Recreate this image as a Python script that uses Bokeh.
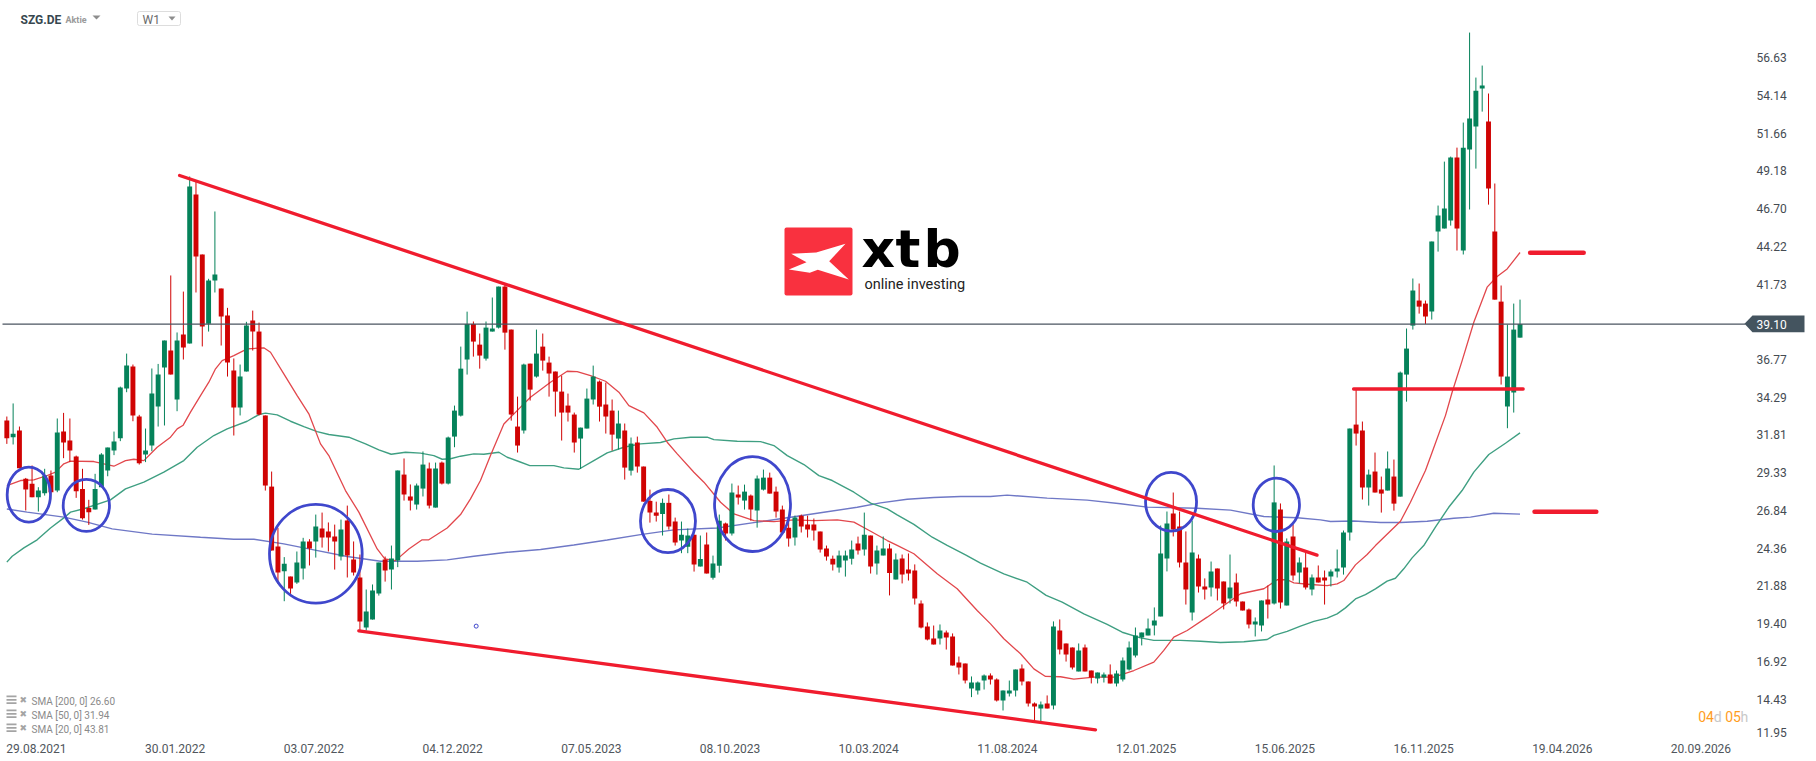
from bokeh.embed import file_html
from bokeh.models import BoxAnnotation, FixedTicker, Label, PolyAnnotation
from bokeh.plotting import figure
from bokeh.resources import INLINE

# weekly candles, 29.08.2021 onwards
opens = [
    32.76,31.66,32.10,28.92,28.59,27.71,27.98,29.14,28.15,32.03,
    31.44,30.39,28.26,27.01,26.90,28.37,29.47,30.78,31.59,34.86,
    36.31,33.02,30.52,31.11,33.68,36.24,37.36,34.14,38.41,37.82,
    47.63,43.68,39.12,41.97,41.44,39.66,36.05,33.61,35.98,39.34,
    38.61,33.09,28.41,24.47,22.84,22.49,22.10,23.02,24.80,24.80,
    25.65,25.45,25.12,23.81,26.18,23.61,22.43,19.14,19.66,21.38,
    23.61,22.95,23.55,29.20,27.76,27.23,28.28,29.60,27.03,29.99,
    28.61,31.70,33.08,36.77,39.11,37.75,36.83,38.61,38.87,41.57,
    38.74,32.36,32.10,36.50,35.65,37.62,36.57,35.98,34.66,33.74,
    33.15,31.57,32.23,34.14,35.32,33.81,33.41,31.57,32.10,29.46,
    31.31,29.73,27.47,26.70,26.61,27.34,26.11,24.86,24.46,25.25,
    23.15,24.60,22.42,23.21,25.98,25.32,27.89,27.49,27.82,26.83,
    28.21,29.00,28.08,26.90,25.71,25.06,26.50,25.91,25.91,25.45,
    24.33,23.67,23.08,23.54,23.67,24.66,24.27,25.19,23.35,23.88,
    24.34,22.30,23.68,22.96,22.89,20.72,19.21,18.42,18.42,18.81,
    18.55,16.84,16.77,15.13,15.00,15.65,15.98,15.72,14.34,14.80,
    15.00,16.44,15.59,14.14,13.81,14.14,14.01,18.94,18.09,17.83,
    16.25,17.83,16.31,15.79,15.85,16.05,15.46,15.72,16.38,17.30,
    18.48,18.62,19.27,19.87,23.68,26.64,25.79,23.42,20.13,23.68,
    21.84,21.77,23.02,22.17,21.05,22.10,20.85,20.33,19.34,19.27,
    20.98,20.72,26.90,20.59,25.13,22.76,23.09,21.64,22.43,22.43,
    22.50,22.83,23.08,25.39,32.49,32.10,28.35,29.40,28.22,28.15,
    29.07,27.75,35.78,39.00,40.65,40.45,39.93,45.19,45.39,45.91,
    50.06,43.94,50.58,52.10,54.60,52.43,45.19,40.58,33.68,34.60,38.21,
]
closes = [
    31.59,31.88,29.62,28.22,27.71,28.15,29.14,28.04,31.97,31.31,
    30.78,28.11,26.33,26.73,28.26,30.52,30.98,31.38,34.93,36.38,
    33.09,29.95,30.78,34.53,35.78,38.02,35.78,38.02,37.56,48.15,
    43.55,38.94,41.97,42.36,39.60,36.57,33.61,35.65,39.01,38.61,
    33.15,28.48,24.20,22.76,23.33,21.70,23.41,24.80,24.34,25.78,
    25.06,25.06,24.80,25.59,23.88,22.76,19.53,20.19,21.57,23.41,
    22.89,23.68,29.47,27.89,27.49,28.48,29.86,27.16,29.60,28.61,
    31.64,33.41,36.17,39.11,37.95,37.03,38.87,38.81,41.57,38.54,
    33.15,31.11,36.44,34.79,37.16,36.70,35.85,34.66,33.28,33.28,
    31.31,32.29,34.20,35.65,33.67,33.02,31.83,32.56,29.66,31.24,
    29.73,27.42,26.70,26.50,27.34,25.78,24.73,25.25,25.19,23.28,
    23.65,22.69,23.35,26.17,25.32,28.02,27.69,28.08,26.90,28.94,
    29.00,27.95,26.77,25.39,24.99,26.37,25.78,25.58,25.52,24.27,
    23.81,23.28,23.87,23.87,24.27,24.20,25.25,23.15,24.20,24.34,
    22.72,23.62,22.63,22.69,21.05,19.14,18.35,18.02,18.94,18.48,
    16.64,16.51,15.65,15.52,15.52,15.98,15.72,14.34,15.00,15.00,
    16.38,15.59,14.14,13.94,14.08,13.81,19.21,17.69,17.37,16.51,
    17.63,16.25,15.85,16.18,16.05,15.46,16.12,16.97,17.83,18.62,
    18.81,19.08,19.60,24.01,25.98,25.59,23.42,21.64,24.08,21.84,
    21.64,22.83,21.71,20.72,21.77,20.85,20.26,19.34,19.54,20.92,
    20.65,27.37,20.79,24.80,22.56,23.42,21.77,22.43,22.10,22.23,
    22.83,23.02,25.39,32.23,31.90,28.35,29.20,28.02,27.95,29.60,
    27.29,35.91,37.49,41.31,40.25,39.60,44.53,46.24,46.70,50.06,
    45.39,50.71,52.62,54.46,54.79,48.02,40.71,35.65,35.65,38.74,39.10,
]
highs = [
    33.02,33.88,32.36,28.98,29.80,28.37,29.58,29.47,32.89,33.26,
    32.89,30.45,29.58,27.54,29.25,30.61,30.98,32.03,34.99,37.16,
    36.44,33.13,32.23,36.18,36.48,38.02,42.30,38.55,41.24,48.81,
    48.55,43.68,42.08,46.51,41.44,40.17,36.84,36.44,39.25,39.99,
    39.20,33.09,29.40,25.70,23.77,22.49,24.14,25.04,24.95,26.57,
    26.70,26.05,25.91,26.24,27.16,24.80,23.94,21.64,21.97,23.41,
    23.81,24.53,29.47,30.26,28.55,28.61,30.72,29.99,29.99,30.06,
    31.70,33.74,37.62,39.92,39.27,38.48,39.27,40.85,41.57,41.70,
    38.74,34.33,36.50,36.50,38.74,38.48,36.96,35.98,35.71,34.53,
    33.28,32.29,34.86,36.37,35.39,35.25,34.14,33.41,32.56,31.64,
    31.70,29.73,28.21,27.42,27.62,27.89,26.37,26.11,25.65,25.25,
    25.19,25.39,23.87,26.57,26.04,28.61,28.48,28.54,27.89,29.14,
    29.53,29.33,28.41,27.16,26.44,26.50,26.57,26.50,26.31,25.45,
    24.53,23.87,24.20,24.20,24.86,25.12,26.70,25.19,24.53,25.13,
    24.65,24.01,23.94,24.01,23.29,20.92,19.47,19.27,19.34,18.94,
    18.75,17.23,16.77,15.92,15.59,16.05,16.12,15.79,15.00,15.65,
    16.38,16.71,15.59,14.21,14.27,14.67,19.54,19.67,18.09,17.83,
    18.09,18.02,16.31,16.18,16.18,16.71,16.31,17.17,18.22,19.14,
    18.81,19.73,20.46,25.85,26.77,28.02,26.77,25.46,26.18,23.94,
    22.37,23.48,23.02,22.17,23.94,22.69,20.85,20.39,19.80,20.92,
    21.90,29.80,27.30,25.00,25.92,23.75,24.08,22.63,23.22,22.89,
    22.96,24.27,25.52,32.23,34.84,32.69,29.53,30.65,29.07,30.72,
    30.19,35.98,38.81,42.10,41.77,40.65,44.53,46.90,49.79,50.12,
    50.71,52.36,58.28,55.32,56.11,54.27,48.35,41.64,39.07,40.45,40.71,
]
lows = [
    31.22,31.18,29.62,26.84,27.71,26.77,27.82,27.93,28.04,30.28,
    30.02,27.67,26.24,25.89,26.90,28.37,29.09,30.48,31.40,34.62,
    32.71,29.86,30.02,30.74,32.36,32.43,35.78,33.37,36.77,37.82,
    41.18,37.63,38.61,41.18,37.69,35.65,31.77,33.09,35.98,37.36,
    33.09,28.15,24.20,22.01,20.87,21.35,22.01,22.30,23.22,23.74,
    24.40,24.14,22.95,23.55,22.43,22.56,18.94,18.94,19.66,21.24,
    22.16,21.64,23.11,27.49,26.84,26.90,27.76,26.97,27.03,28.55,
    28.55,31.00,33.02,35.78,36.96,36.17,36.70,38.61,38.81,37.42,
    32.75,30.65,31.90,34.07,35.58,36.04,34.33,33.02,31.44,32.69,
    30.65,29.57,32.23,33.81,32.69,31.90,30.78,30.85,28.87,29.14,
    29.33,27.42,26.04,26.11,25.19,25.58,24.53,24.03,24.03,22.82,
    23.15,22.69,22.29,22.75,24.86,25.19,27.23,26.90,26.17,25.71,
    28.15,27.95,26.37,25.39,24.46,24.53,25.39,25.06,24.86,24.07,
    23.54,22.89,22.75,22.49,23.28,23.94,23.87,22.69,22.62,23.88,
    21.25,22.30,22.04,22.23,20.65,19.08,18.29,18.02,18.02,17.69,
    16.64,16.05,15.46,14.56,14.73,15.06,15.39,14.27,13.68,14.60,
    14.60,15.33,13.94,12.96,12.96,13.81,13.75,17.37,16.90,16.38,
    16.25,16.25,15.46,15.46,15.52,15.46,15.26,15.59,16.31,17.17,
    17.96,18.62,18.62,19.87,22.83,25.13,23.09,20.65,19.60,21.44,
    20.98,21.18,20.92,20.33,20.72,20.52,20.26,19.08,18.55,18.88,
    19.73,20.65,20.39,20.59,22.23,22.04,21.64,21.25,22.10,20.65,
    21.84,22.43,22.62,24.86,31.11,27.56,27.16,28.02,26.70,28.15,
    26.83,27.75,34.00,38.74,39.79,39.11,39.40,43.87,45.39,45.58,
    43.94,43.68,46.64,49.33,53.08,46.96,40.71,35.12,32.25,33.28,38.21,
]

sma20_x = [0,2.17,4.28,6.4,7.72,9.04,10.1,13.8,16.97,18.82,20.14,21.73,23.84,25.96,27.02,27.97,29.13,30.72,32.04,33.1,
    34.15,36,38.12,40.76,41.82,43.93,46.05,47.9,49.75,51.07,53.71,55.83,58.74,59.95,61.64,63.76,65.87,66.93,69.84,71.96,
    73.54,75.12,76.71,78.83,80.94,83.05,86.23,88.87,90.46,92.58,94.96,97.07,98.66,101.04,103.16,104.74,106.33,108.97,110.56,113.2,
    115.32,118.49,121.66,124.83,128,131.71,134.35,137,139.64,141.21,143.86,147.56,150.73,153.9,156.02,158.13,160.77,162.89,164.74,167.12,
    169.23,172.4,175.58,178.75,181.92,183.5,185.09,187.21,190.38,193.02,195.67,199.37,201.49,203.07,204.13,206.77,209.41,211,212.05,213.9,
    215.75,217.07,221.04,222.62,225,226.06,228.17,229.23,230.82,232.67,234.78,236.37,237.96,240]
sma20_y = [28.48,28.81,28.85,29.14,29.36,29.91,30.08,30.06,29.75,30.12,30.21,30.12,31,31.66,32.21,32.45,33.31,34.4,35.28,36.16,
    36.7,37.03,37.47,37.54,37.25,35.83,34.4,33.2,31.22,30.45,28.15,26.73,24.31,23.65,23.54,24.31,24.91,24.91,25.69,26.57,
    27.6,28.81,30.45,32.53,33.41,34.29,35.28,36,35.98,35.71,35.34,34.62,33.74,33.26,32.31,31.33,30.56,29.35,28.7,27.38,
    26.61,26.17,26.11,26.22,26.17,26.22,26.07,25.47,24.86,24.54,23.99,22.67,21.69,20.26,19.38,18.4,17.41,16.42,15.92,15.9,
    15.74,15.87,15.87,16.31,16.86,17.63,18.51,18.94,19.82,20.59,21.36,21.69,22.28,22.28,22.08,21.97,21.9,22.01,22.23,23.26,
    23.94,24.53,26.13,27.38,29.47,30.67,33.08,34.62,36.7,39.22,41.53,42.23,42.73,43.81]

sma50_x = [0,0.85,2.7,4.81,6.93,9.04,10.1,12.21,16.44,18.82,21.73,24.9,28.07,30.19,32.83,34.95,38.12,39.97,41.03,42.88,
    44.99,47.11,49.22,51.07,54.24,56.89,59,60.96,63.23,65.61,67.73,69.05,70.37,71.96,74.07,75.66,78.04,79.36,81.21,82.95,
    86.76,88.34,90.72,93.1,95.22,97.86,100.5,103.68,105.8,108.44,111.08,112.14,115.84,119.54,121.66,123.78,126.42,128.8,130.91,134.35,
    137,139.64,141.21,143.86,146.77,149.14,152.05,154.43,158.13,161.83,164.84,167.38,170.82,174.52,176.9,179.8,181.92,186.15,189.33,192.5,
    196.2,199.9,200.96,203.07,205.18,207.3,209.41,210.99,212.31,213.9,215.48,217.07,218.92,220.24,221.56,222.88,224.73,226.58,228.69,230.81,
    232.67,235.05,237.69,240]
sma50_y = [23.44,23.83,24.38,24.91,25.69,26.35,26.73,26.95,27.54,28.26,28.7,29.36,30.12,31,31.77,32.21,32.71,33.15,33.24,33.13,
    32.71,32.36,32.03,31.84,31.66,31.22,30.83,30.54,30.67,30.61,30.45,30.21,30.24,30.41,30.56,30.54,30.67,30.34,30.06,29.79,
    29.79,29.64,29.55,30.12,30.63,31,31.22,31.31,31.55,31.66,31.66,31.5,31.39,31.37,31.11,30.45,29.86,29.13,28.81,28.04,
    27.32,26.94,26.55,25.92,25.08,24.54,23.92,23.37,22.67,22.12,21.25,20.81,20.04,19.34,18.83,18.46,18.29,18.29,18.24,18.15,
    18.2,18.35,18.62,18.88,19.23,19.54,19.76,20.04,20.43,21.02,21.31,21.68,22.19,22.38,23,23.72,24.53,25.74,27.05,28.15,
    29.36,30.52,31.26,31.94]

sma200_x = [0,3.22,9.04,12.74,16.71,23.05,30.72,36,39.17,43.93,48.69,53.97,59.27,65.08,69.84,74.07,79.36,84.65,89.93,95.22,
    100.5,105.8,112.67,119.01,124.3,129.58,134.87,138.57,142.8,147.03,151.26,156.02,158.66,165,171.35,176.64,180.87,188.8,194.09,199.37,
    204.66,208.35,209.94,213.64,217.87,221.04,225.27,229.5,232.14,235.84,240]
sma200_y = [26.94,26.73,26.4,26.07,25.63,25.28,25.08,24.95,24.95,24.64,24.25,23.81,23.5,23.5,23.59,23.83,24.09,24.27,24.57,24.9,
    25.25,25.56,25.69,26.07,26.39,26.72,27.05,27.34,27.58,27.69,27.76,27.76,27.85,27.65,27.52,27.28,27.06,26.99,26.86,26.44,
    26.36,26.22,26.11,26.15,26.05,26.05,26.13,26.33,26.4,26.66,26.6]

# hand-drawn circles: centre week, centre price, width in weeks, height in price
circle_x = [3.49,12.61,49.01,104.86,118.27,184.65,201.35]
circle_y = [27.88,27.17,23.99,26.14,27.26,27.41,27.21]
circle_w = [6.87,7.34,14.7,8.72,12.05,8.09,7.34]
circle_h = [3.62,3.42,6.49,4.16,6.25,3.86,3.51]

# hand-drawn red lines
trend_x0 = [27.4,55.83,213.6,241.6,242.3]
trend_x1 = [207.8,172.67,240.5,250.1,252.1]
trend_y0 = [48.88,18.92,34.83,43.79,26.75]
trend_y1 = [23.9,12.41,34.83,43.79,26.75]
trend_w = [3.3,3.3,3.3,4.5,4.5]

# stray anchor point left on the chart
marker_x = [74.44]
marker_y = [19.23]

date_labels = ["29.08.2021","30.01.2022","03.07.2022","04.12.2022","07.05.2023","08.10.2023","10.03.2024",
    "11.08.2024","12.01.2025","15.06.2025","16.11.2025","19.04.2026","20.09.2026"]
price_labels = ["56.63","54.14","51.66","49.18","46.70","44.22","41.73","36.77","34.29","31.81","29.33",
    "26.84","24.36","21.88","19.40","16.92","14.43","11.95"]
price_ticks = [56.63,54.14,51.66,49.18,46.70,44.22,41.73,36.77,34.29,31.81,29.33,26.84,24.36,21.88,19.40,16.92,14.43,12.25]
sma_legend = ["SMA [200, 0] 26.60","SMA [50, 0] 31.94","SMA [20, 0] 43.81"]
last_price = 39.10

# scale of the picture, used to place the page furniture
PX_WEEK = 6.305
PX_UNIT = 15.2
def dx(px):
    return (px - 6.33) / PX_WEEK
def dy(py):
    return 60.39 - py / PX_UNIT

FRAME_W = 1808
FRAME_H = 735
GREEN = "#05825a"
RED = "#d00303"
LINE_RED = "#f01c2e"

p = figure(width=1816, height=761, output_backend="svg", toolbar_location=None,
    x_range=(dx(0), dx(FRAME_W)), y_range=(dy(FRAME_H), dy(0)),
    y_axis_location="right", min_border_left=0, min_border_top=0,
    min_border_right=1816 - FRAME_W, min_border_bottom=761 - FRAME_H,
    outline_line_color=None, background_fill_color="white", border_fill_color="white",
    styles={"position": "absolute", "left": "0", "top": "0"})
p.grid.visible = False

xa = p.xaxis[0]
xa.ticker = FixedTicker(ticks=[i * 22 + 4.7 for i in range(len(date_labels))])
xa.major_label_overrides = {i * 22 + 4.7: d for i, d in enumerate(date_labels)}
xa.axis_line_color = None
xa.major_tick_line_color = None
xa.minor_tick_line_color = None
xa.major_label_text_font = "Roboto"
xa.major_label_text_font_size = "12px"
xa.major_label_text_color = "#50565c"
xa.major_label_standoff = 2

ya = p.yaxis[0]
ya.ticker = FixedTicker(ticks=price_ticks)
ya.major_label_overrides = dict(zip(price_ticks, price_labels))
ya.axis_line_color = None
ya.major_tick_line_color = None
ya.minor_tick_line_color = None
ya.major_label_text_font = "Roboto"
ya.major_label_text_font_size = "12px"
ya.major_label_text_color = "#454b52"
ya.major_label_standoff = -58

weeks = list(range(len(opens)))
colors = [GREEN if c >= o else RED for o, c in zip(opens, closes)]

p.line(sma200_x, sma200_y, line_color="#6f78c6", line_width=1.4)
p.line(sma50_x, sma50_y, line_color="#3f9f82", line_width=1.4)
p.line(sma20_x, sma20_y, line_color="#e2474c", line_width=1.3)

p.segment(weeks, lows, weeks, highs, line_color=colors, line_width=1)
p.vbar(x=weeks, width=0.78, bottom=[min(o, c) for o, c in zip(opens, closes)],
    top=[max(o, c) for o, c in zip(opens, closes)], fill_color=colors, line_color=None)

p.line([dx(2), dx(1745)], [last_price, last_price], line_color="#4b5560", line_width=1.4)

p.ellipse(circle_x, circle_y, width=circle_w, height=circle_h, fill_color=None,
    line_color="#3f47cc", line_width=2.8)
p.segment(trend_x0, trend_y0, trend_x1, trend_y1, line_color=LINE_RED, line_width=trend_w,
    line_cap="round")
p.scatter(marker_x, marker_y, size=4, fill_color="white", line_color="#3f47cc", line_width=1)

def text(px, py, s, size, color, style="normal", font="Roboto", align="left"):
    p.add_layout(Label(x=dx(px), y=dy(py), text=s, text_font=font, text_font_size=size,
        text_color=color, text_font_style=style, text_align=align, text_baseline="middle"))

def poly(points, color):
    p.add_layout(PolyAnnotation(xs=[dx(a) for a, b in points], ys=[dy(b) for a, b in points],
        fill_color=color, fill_alpha=1, line_color=None))

def box(x0, x1, y0, y1, fill, line=None, radius=0):
    p.add_layout(BoxAnnotation(left=dx(x0), right=dx(x1), top=dy(y0), bottom=dy(y1),
        fill_color=fill, fill_alpha=1, line_color=line, line_alpha=1, line_width=1,
        border_radius=radius))

# price tag
poly([(1744, 323.3), (1752, 315), (1804, 315), (1804, 331.7), (1752, 331.7)], "#44545f")
text(1756, 324, "39.10", "12px", "white")

# header
text(20, 19, "SZG.DE", "12px", "#37474f", style="bold")
text(65, 19.5, "Aktie", "9px", "#9a9a9a", style="bold")
poly([(92, 15), (100, 15), (96, 19)], "#8d8d8d")
box(137, 180, 11, 25, "white", line="#dddddd", radius=2)
text(142, 19, "W1", "12px", "#6a6a6a")
poly([(168, 16), (175, 16), (171.5, 20)], "#8d8d8d")

# logo
box(784, 852, 227, 295, "#f9313f", radius=2)
poly([(790.7, 253.3), (815.7, 252), (845, 243.3), (828.7, 260.7), (848.3, 279),
    (817.3, 269.3), (809.3, 272.3), (788.3, 269), (806, 261.7)], "white")
text(861, 248.5, "x", "52px", "black", style="bold", font="DejaVu Sans")
text(895, 248.5, "t", "52px", "black", style="bold", font="DejaVu Sans")
text(923, 248.5, "b", "52px", "black", style="bold", font="DejaVu Sans")
text(864, 284, "online investing", "14.5px", "#222222")

# indicator legend
for i, s in enumerate(sma_legend):
    y = 699 + i * 14
    for k in range(3):
        box(6, 16, y - 4 + k * 3.4, y - 2.2 + k * 3.4, "#a4a4a4")
    text(19, y, "\u2716", "9px", "#a4a4a4", font="DejaVu Sans")
    text(31, y + 1.5, s, "10px", "#8a8a8a")

# countdown
text(1697.7, 716, "04", "14px", "#ff9d1e")
text(1713.3, 716, "d", "14px", "#c8c8c8")
text(1724.7, 716, "05", "14px", "#ff9d1e")
text(1740, 716, "h", "14px", "#c8c8c8")

open("out.html", "w").write(file_html(p, INLINE))
